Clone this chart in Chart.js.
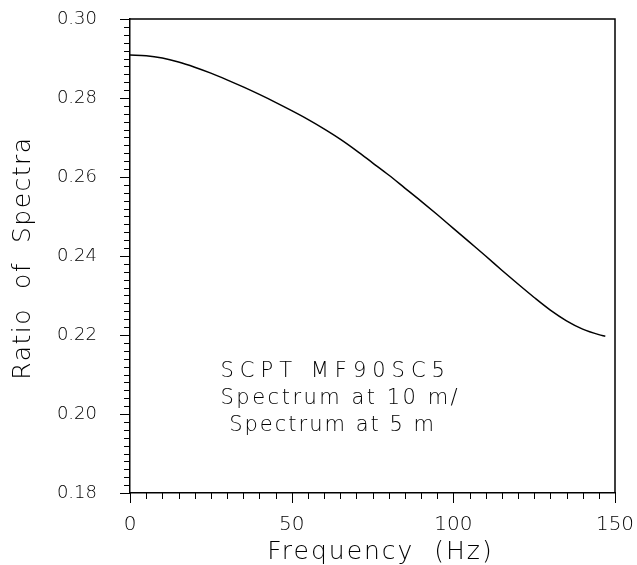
<!DOCTYPE html>
<html>
<head>
<meta charset="utf-8">
<script src="https://cdn.jsdelivr.net/npm/chart.js@4"></script>
<style>
  html, body { margin: 0; padding: 0; background: #fff; }
  canvas { display: block; }
</style>
</head>
<body>
<canvas id="ratioChart" width="637" height="565"></canvas>
<script>
const freq = [0, 5, 10, 15, 20, 25, 30, 35, 40, 45, 50, 55, 60, 65, 70, 75,
    80, 85, 90, 95, 100, 105, 110, 115, 120, 125, 130, 135, 140, 145, 147];
const ratio = [0.2909, 0.2907, 0.2901, 0.2891, 0.2878, 0.2863, 0.2846, 0.2828,
    0.2809, 0.2789, 0.2768, 0.2746, 0.2722, 0.2696, 0.2667, 0.2636,
    0.2605, 0.2572, 0.2539, 0.2505, 0.2470, 0.2435, 0.2400, 0.2364,
    0.2329, 0.2295, 0.2263, 0.2236, 0.2215, 0.2201, 0.2197];
const xMajor = [0, 50, 100, 150];
const yMajor = [0.18, 0.20, 0.22, 0.24, 0.26, 0.28, 0.30];
const xTitle = 'Frequency  (Hz)';
const yTitle = 'Ratio  of  Spectra';
const noteLines = ['SCPT MF90SC5', 'Spectrum at 10 m/', ' Spectrum at 5 m'];

const FONT = "'DejaVu Sans', sans-serif";

function isMajor(list, v) {
    return list.some(m => Math.abs(m - v) < 1e-6);
}

// frame, outward tick marks, axis titles and the note text
const framePlugin = {
    id: 'frame',
    afterDraw(chart) {
        const ctx = chart.ctx;
        const a = chart.chartArea;
        const xs = chart.scales.x;
        const ys = chart.scales.y;
        ctx.save();
        ctx.strokeStyle = '#000';
        ctx.lineWidth = 1.5;
        ctx.beginPath();
        ctx.moveTo(a.left, a.top);
        ctx.lineTo(a.right, a.top);
        ctx.lineTo(a.right, a.bottom);
        ctx.stroke();

        ctx.lineWidth = 1;
        ctx.beginPath();
        xs.ticks.forEach(t => {
            const px = Math.round(xs.getPixelForValue(t.value)) + 0.5;
            const len = isMajor(xMajor, t.value) ? 10 : 6;
            ctx.moveTo(px, a.bottom);
            ctx.lineTo(px, a.bottom + len);
        });
        ys.ticks.forEach(t => {
            const py = Math.round(ys.getPixelForValue(t.value)) + 0.5;
            const len = isMajor(yMajor, t.value) ? 10 : 6;
            ctx.moveTo(a.left, py);
            ctx.lineTo(a.left - len, py);
        });
        ctx.stroke();

        ctx.fillStyle = '#000';
        ctx.textBaseline = 'middle';

        // axis titles
        ctx.font = '200 25px ' + FONT;
        ctx.letterSpacing = '2px';
        ctx.textAlign = 'center';
        ctx.fillText(xTitle, (a.left + a.right) / 2 + 8, 552);
        ctx.save();
        ctx.translate(23, (a.top + a.bottom) / 2 + 2);
        ctx.rotate(-Math.PI / 2);
        ctx.letterSpacing = '1.5px';
        ctx.fillText(yTitle, 0, 0);
        ctx.restore();

        // note: the capitals line is spaced wider, like the plotter font
        const spacing = ['6px', '2.5px', '2px'];
        ctx.font = '200 21px ' + FONT;
        ctx.textAlign = 'left';
        const x0 = xs.getPixelForValue(28);
        const y0 = ys.getPixelForValue(0.2108);
        noteLines.forEach((line, i) => {
            ctx.letterSpacing = spacing[i];
            ctx.fillText(line, x0, y0 + i * 27);
        });
        ctx.restore();
    }
};

const ctx = document.getElementById('ratioChart').getContext('2d');
new Chart(ctx, {
    type: 'line',
    data: {
        datasets: [{
            data: freq.map((f, i) => ({ x: f, y: ratio[i] })),
            borderColor: '#000',
            borderWidth: 1.5,
            pointRadius: 0,
            fill: false,
            cubicInterpolationMode: 'monotone'
        }]
    },
    options: {
        responsive: false,
        animation: false,
        devicePixelRatio: 1,
        layout: {
            padding: { top: 19, right: 22, left: 0, bottom: 0 }
        },
        plugins: {
            legend: { display: false },
            tooltip: { enabled: false }
        },
        scales: {
            x: {
                type: 'linear',
                min: 0,
                max: 150,
                afterFit: scale => { scale.height = 72; },
                grid: {
                    drawOnChartArea: false,
                    drawTicks: true,
                    tickLength: 20,
                    tickColor: 'rgba(0,0,0,0)'
                },
                border: { display: true, color: '#000', width: 1.5 },
                ticks: {
                    stepSize: 5,
                    autoSkip: false,
                    maxRotation: 0,
                    maxTicksLimit: 200,
                    padding: 0,
                    color: '#000',
                    font: { family: FONT, size: 20, weight: '200' },
                    callback: v => isMajor(xMajor, v) ? String(v) : ''
                }
            },
            y: {
                type: 'linear',
                min: 0.18,
                max: 0.30,
                afterFit: scale => { scale.width = 130; },
                grid: {
                    drawOnChartArea: false,
                    drawTicks: true,
                    tickLength: 33,
                    tickColor: 'rgba(0,0,0,0)'
                },
                border: { display: true, color: '#000', width: 1.5 },
                ticks: {
                    stepSize: 0.002,
                    autoSkip: false,
                    maxTicksLimit: 200,
                    padding: 0,
                    color: '#000',
                    font: { family: FONT, size: 18, weight: '200' },
                    callback: v => isMajor(yMajor, v) ? v.toFixed(2) : ''
                }
            }
        }
    },
    plugins: [framePlugin]
});
</script>
</body>
</html>
